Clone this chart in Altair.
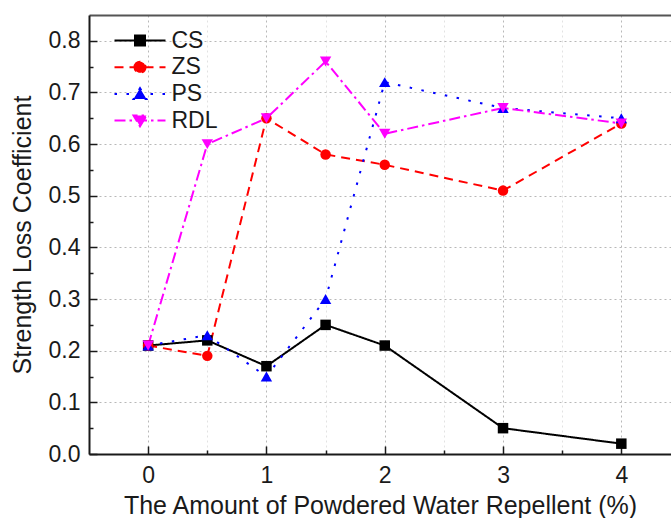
import altair as alt
import pandas as pd

# ---- data ----
amount = [0, 0.5, 1, 1.5, 2, 3, 4]
cs = [0.21, 0.22, 0.17, 0.25, 0.21, 0.05, 0.02]
zs = [0.21, 0.19, 0.65, 0.58, 0.56, 0.51, 0.64]
ps = [0.21, 0.23, 0.15, 0.30, 0.72, 0.67, 0.65]
rdl = [0.21, 0.60, 0.65, 0.76, 0.62, 0.67, 0.64]
series_names = ["CS", "ZS", "PS", "RDL"]

x_major = [0, 1, 2, 3, 4]
x_minor = [0.5, 1.5, 2.5, 3.5]
y_major = [0.0, 0.1, 0.2, 0.3, 0.4, 0.5, 0.6, 0.7, 0.8]
y_minor = [0.05, 0.15, 0.25, 0.35, 0.45, 0.55, 0.65, 0.75]

x_title = "The Amount of Powdered Water Repellent (%)"
y_title = "Strength Loss Coefficient"

rows = []
for name, vals in zip(series_names, [cs, zs, ps, rdl]):
    for xv, yv in zip(amount, vals):
        rows.append({"amount": xv, "coef": yv, "series": name})
df = pd.DataFrame(rows)

# ---- styles ----
colors = ["#000000", "#FF0000", "#0000FF", "#FF00FF"]
dashes = [[1, 0], [9, 6], [2.5, 9.5], [11, 4, 2.5, 4]]
shapes = ["square", "circle", "triangle-up", "triangle-down"]
sizes = [110, 110, 130, 130]
legend_paths = [
    "M-4.25,0H4.25M-0.83,-0.83H0.83V0.83H-0.83Z",
    "M-4.25,0H4.25M-0.92,0A0.92,0.92,0,1,1,0.92,0A0.92,0.92,0,1,1,-0.92,0Z",
    "M-4.25,0H4.25M0,-0.95L1.08,0.85L-1.08,0.85Z",
    "M-4.25,0H4.25M0,0.95L1.08,-0.85L-1.08,-0.85Z",
]

W, H = 582, 439
FONT = "Liberation Sans"
TXT = "#1a1a1a"
AX = "#1a1a1a"

xscale = alt.Scale(domain=[-0.5, 4.42], nice=False, zero=False)
yscale = alt.Scale(domain=[0, 0.85], nice=False, zero=False)

base = alt.Chart(df)

# main lines with labelled axes and major grid
lines = base.mark_line(strokeWidth=2, clip=True).encode(
    x=alt.X("amount:Q", scale=xscale, axis=alt.Axis(
        orient="bottom", values=x_major, format="d", title=x_title,
        ticks=False, domainColor=AX, domainWidth=2,
        labelFontSize=23, labelColor=TXT, labelPadding=10,
        titleFontSize=25, titleFontWeight="normal", titleColor=TXT, titlePadding=6,
        grid=True, gridDash=[2, 3], gridColor="#b8b8b8", gridWidth=1)),
    y=alt.Y("coef:Q", scale=yscale, axis=alt.Axis(
        orient="left", values=y_major, format=".1f", title=y_title,
        ticks=False, domainColor=AX, domainWidth=2,
        labelFontSize=23, labelColor=TXT, labelPadding=9,
        titleFontSize=25, titleFontWeight="normal", titleColor=TXT, titlePadding=13,
        grid=True, gridDash=[2, 3], gridColor="#b8b8b8", gridWidth=1)),
    color=alt.Color("series:N", scale=alt.Scale(domain=series_names, range=colors), legend=None),
    strokeDash=alt.StrokeDash("series:N", scale=alt.Scale(domain=series_names, range=dashes), legend=None),
)

# axes carried by the marker layers (inward ticks, minor grid, top frame)
x_axes = [
    alt.Axis(orient="top", offset=-H, values=x_major, labels=False, domain=False,
             grid=False, tickSize=8, tickWidth=1.5, tickColor=AX, title=None),
    alt.Axis(orient="bottom", values=x_minor, labels=False, domain=False, ticks=False,
             grid=True, gridDash=[2, 3], gridColor="#e2e2e2", gridWidth=1, title=None),
    alt.Axis(orient="top", offset=-H, values=x_minor, labels=False, domain=False,
             grid=False, tickSize=4, tickWidth=1.5, tickColor=AX, title=None),
    alt.Axis(orient="top", values=x_major, labels=False, ticks=False, grid=False,
             domain=True, domainColor="#555555", domainWidth=2, title=None),
]
y_axes = [
    alt.Axis(orient="right", offset=-W, values=y_major, labels=False, domain=False,
             grid=False, tickSize=8, tickWidth=1.5, tickColor=AX, title=None),
    None,
    alt.Axis(orient="right", offset=-W, values=y_minor, labels=False, domain=False,
             grid=False, tickSize=4, tickWidth=1.5, tickColor=AX, title=None),
    None,
]

point_layers = []
for i, name in enumerate(series_names):
    point_layers.append(
        base.transform_filter(alt.datum.series == name)
        .mark_point(shape=shapes[i], filled=True, size=sizes[i], opacity=1, clip=True)
        .encode(
            x=alt.X("amount:Q", scale=xscale, axis=x_axes[i]),
            y=alt.Y("coef:Q", scale=yscale, axis=y_axes[i]),
            color=alt.Color("series:N", scale=alt.Scale(domain=series_names, range=colors), legend=None),
        )
    )

legend_spec = alt.Legend(
    orient="none", legendX=39.5, legendY=14, title=None, padding=0,
    symbolSize=144, symbolStrokeWidth=2, symbolOffset=0,
    labelFontSize=23, labelColor=TXT, labelOffset=20, rowPadding=2.7,
)

# legend-only layer: its points sit outside the x domain and are clipped
legend_layer = base.mark_point(size=144, opacity=1, strokeWidth=2, clip=True).encode(
    x=alt.X(datum=-2, scale=xscale, axis=None),
    y=alt.Y("coef:Q", scale=yscale, axis=None),
    fill=alt.Fill("series:N", scale=alt.Scale(domain=series_names, range=colors), legend=legend_spec),
    stroke=alt.Stroke("series:N", scale=alt.Scale(domain=series_names, range=colors), legend=legend_spec),
    shape=alt.Shape("series:N", scale=alt.Scale(domain=series_names, range=legend_paths), legend=legend_spec),
    strokeDash=alt.StrokeDash("series:N", scale=alt.Scale(domain=series_names, range=dashes), legend=legend_spec),
)

chart = alt.layer(lines, *point_layers, legend_layer).resolve_axis(
    x="independent", y="independent"
).resolve_scale(
    color="independent", strokeDash="independent", fill="independent",
    stroke="independent", shape="independent"
).properties(
    width=W, height=H,
    autosize=alt.AutoSizeParams(type="none"),
    padding={"left": 89, "top": 15, "right": 0, "bottom": 64},
    background="white",
).configure(font=FONT).configure_view(stroke=None)

chart.save("out.html", embed_options={"renderer": "svg", "actions": False})
